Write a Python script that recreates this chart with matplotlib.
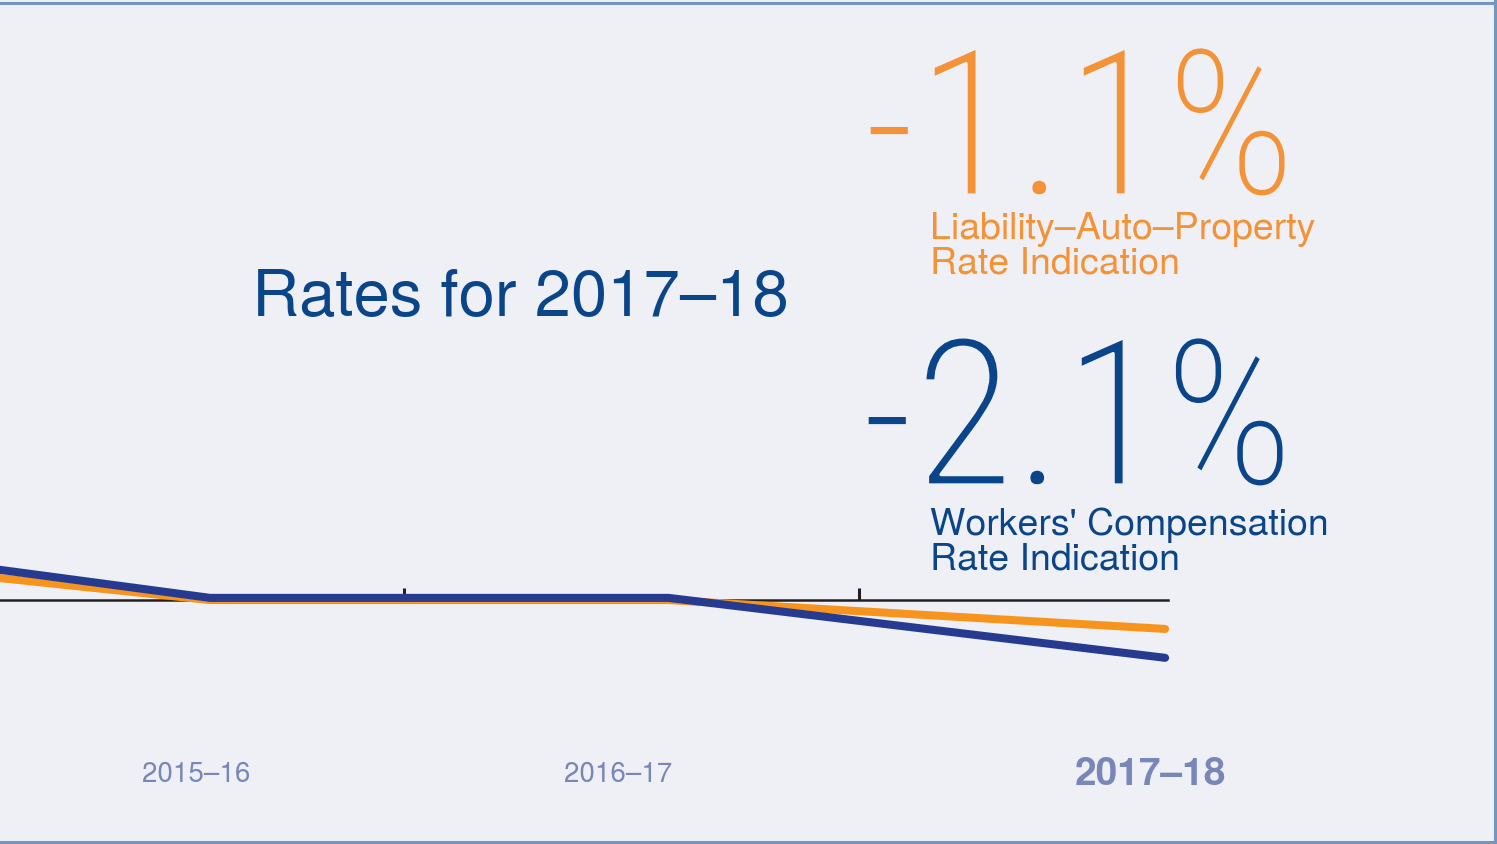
import matplotlib
matplotlib.use("Agg")
import matplotlib.pyplot as plt
from matplotlib.lines import Line2D
from matplotlib import patheffects as pe

# data: rate change (%) at each point along the timeline
# x is in "season" units (0 = 2015-16, ~1 = 2016-17, 2 = 2017-18)
x_points = [-0.44, 0.0, 0.96, 2.0]
wc_rates = [1.1, 0.08, 0.08, -2.1]      # Workers' Compensation
lap_rates = [0.8, 0.0, 0.0, -1.05]      # Liability-Auto-Property
season_labels = ["2015–16", "2016–17", "2017–18"]
season_label_x = [-0.03, 0.855, 1.97]
tick_x = [0.406, 1.359]

bg = "#eff0f5"
orange_line = "#f7941d"
orange_text = "#f39237"
blue_line = "#263b8f"
blue_text = "#0b4589"
label_color = "#7986b8"
border = "#7396c0"
helv = ["TeX Gyre Heros", "Liberation Sans", "DejaVu Sans"]

fig = plt.figure(figsize=(14.97, 8.44), dpi=100)
fig.patch.set_facecolor(bg)
ax = fig.add_axes([0, 0, 1, 1])
ax.set_facecolor(bg)

ax.set_xlim(-0.4398, 2.695)
ax.set_ylim(-8.87, 21.82)

ax.plot(x_points, lap_rates, color=orange_line, lw=5.8,
        solid_capstyle="round", solid_joinstyle="round", zorder=3)
ax.plot(x_points, wc_rates, color=blue_line, lw=5.8,
        solid_capstyle="round", solid_joinstyle="round", zorder=4)

# zero axis with ticks pointing up
for s in ["top", "right", "left"]:
    ax.spines[s].set_visible(False)
ax.spines["bottom"].set_position(("data", 0))
ax.spines["bottom"].set_bounds(-0.4398, 2.006)
ax.spines["bottom"].set_linewidth(1.8)
ax.spines["bottom"].set_color("#231f20")
ax.spines["bottom"].set_zorder(2)
ax.set_xticks(tick_x)
ax.set_xticklabels([])
ax.tick_params(axis="x", direction="in", length=8.5, width=2.2, color="#231f20")
ax.set_yticks([])

for i, (lab, lx) in enumerate(zip(season_labels, season_label_x)):
    bold = i == len(season_labels) - 1
    ax.text(lx, -6.35, lab, ha="center", va="center", color=label_color,
            fontsize=28 if bold else 20, fontweight="bold" if bold else "normal",
            family=helv)

fig.text(252 / 1497, 1 - 316 / 844, "Rates for 2017–18", color=blue_text,
         fontsize=47, family=helv, ha="left", va="baseline")

# big light numbers: condensed face, slightly thinned with a background stroke
big = dict(fontsize=148, family=["Roboto Condensed", "Roboto", "DejaVu Sans"],
           fontweight="light", ha="left", va="baseline")
thin = [pe.Normal(), pe.Stroke(linewidth=2.4, foreground=bg)]
fig.text(863 / 1497, 1 - 195 / 844, "-1.1%", color=orange_text, path_effects=thin, **big)
fig.text(861 / 1497, 1 - 485 / 844, "-2.1%", color=blue_text, path_effects=thin, **big)

sub = dict(fontsize=27, family=helv, ha="left", va="baseline", linespacing=0.95)
fig.text(930 / 1497, 1 - 273 / 844, "Liability–Auto–Property\nRate Indication",
         color=orange_text, **sub)
fig.text(930 / 1497, 1 - 569 / 844, "Workers' Compensation\nRate Indication",
         color=blue_text, **sub)

# frame on top, right and bottom
for xs, ys in [([0, 1], [0.9965, 0.9965]), ([0.9985, 0.9985], [0, 1]),
               ([0, 1], [0.0025, 0.0025])]:
    fig.add_artist(Line2D(xs, ys, transform=fig.transFigure, color=border, lw=2.2))

fig.savefig("out.png", dpi=100, facecolor=bg)
